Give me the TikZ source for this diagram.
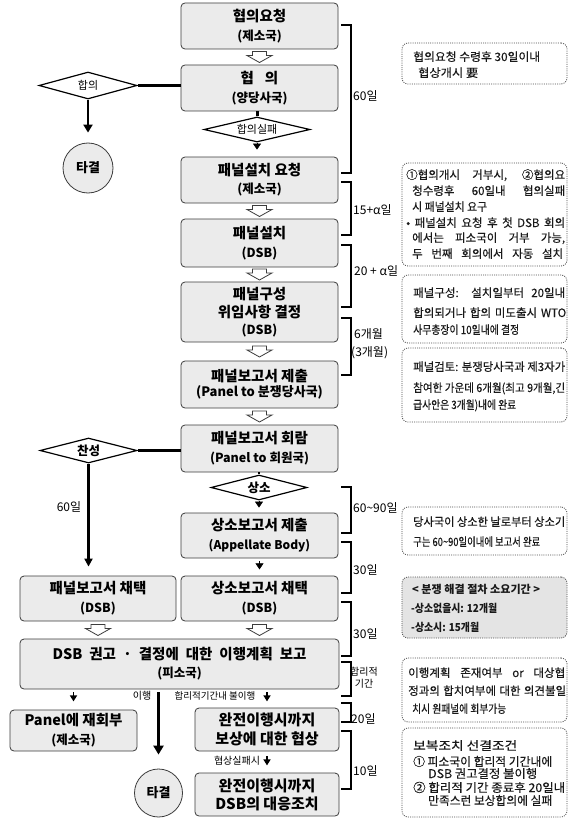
\documentclass[tikz,border=0pt]{standalone}
\usepackage{fontspec}
\usepackage{graphicx}
\setmainfont{Noto Sans CJK KR}
\newfontfamily\nfD[FakeBold=0.25]{Noto Sans CJK KR}
\usetikzlibrary{arrows.meta,shapes.geometric,calc}
\definecolor{boxgray}{HTML}{EBEBEB}
\definecolor{edge}{HTML}{3C3C3C}
\definecolor{notegray}{HTML}{E4E4E4}
\newcommand\kT{\bfseries\fontsize{14.5}{19}\selectfont}
\newcommand\kS{\bfseries\fontsize{12.5}{19}\selectfont}
\newcommand\jl[2]{\setbox0=\hbox{#2}\ifdim\wd0>#1\relax\pgfmathsetmacro\jr{#1/\the\wd0}\scalebox{\jr}[1]{\box0}\else\makebox[#1][s]{#2}\fi}
\newcommand\fw[2]{\setbox0=\hbox{#2}\pgfmathsetmacro\jr{#1/\the\wd0}\scalebox{\jr}[1]{\box0}}
\begin{document}
\begin{tikzpicture}[x=1pt,y=-1pt,
  mb/.style={draw=edge, fill=boxgray, line width=0.8pt, rounded corners=4pt, inner sep=0pt, align=center, font=\kT, minimum width=157pt},
  dm/.style={diamond, aspect=4, draw=black, line width=1.2pt, fill=white, inner sep=0pt},
  cc/.style={circle, draw=edge, line width=0.8pt, fill=boxgray, inner sep=0pt, font=\bfseries\fontsize{13}{15}\selectfont},
  thk/.style={line width=3pt},
  tarr/.style={line width=2.6pt, -{Triangle[length=8pt,width=9pt]}},
  mk/.style={line width=0.5pt, -{Triangle[length=6pt,width=8pt]}},
  mk2/.style={line width=1.6pt, -{Triangle[length=6pt,width=7pt]}},
  br/.style={line width=1.8pt},
  lab/.style={inner sep=0pt, anchor=west, font=\fontsize{12}{14}\selectfont},
  sl/.style={inner sep=0pt, font=\fontsize{10}{12}\selectfont},
  nb/.style={draw=black!70, line width=0.8pt, dash pattern=on 1pt off 1.2pt, rounded corners=6pt, minimum width=165pt, inner sep=0pt},
  nt/.style={inner sep=0pt, anchor=base west, text=black!90, font=\nfD\fontsize{11.5}{13}\selectfont},
  oarrow/.pic={\draw[fill=white, draw=edge, line width=0.8pt, line join=miter] (-7,-5.5) -- (7,-5.5) -- (7,-1.5) -- (12.5,-1.5) -- (0,5.5) -- (-12.5,-1.5) -- (-7,-1.5) -- cycle;}
]
\fill[white] (0,0) rectangle (580,824);
\useasboundingbox (0,0) rectangle (580,824);

% main boxes
\node[mb, minimum height=46pt] (b1) at (259.5,26) {협의요청\\{\kS (제소국)}};
\node[mb, minimum height=46pt] (b2) at (259.5,88) {협\hspace{11pt}의\\{\kS (양당사국)}};
\node[mb, minimum height=46pt] (b3) at (259.5,180) {패널설치 요청\\[-1pt]{\kS (제소국)}};
\node[mb, minimum height=48pt] (b4) at (259.5,243) {패널설치\\{\kS (DSB)}};
\node[mb, minimum height=60pt] (b5) at (259.5,312) {패널구성\\[-1pt]위임사항 결정\\[-2pt]{\kS (DSB)}};
\node[mb, minimum height=47pt] (b6) at (259.5,384.5) {패널보고서 제출\\[-4pt]{\bfseries\fontsize{13}{19}\selectfont (Panel to 분쟁당사국)}};
\node[mb, minimum height=47pt] (b7) at (259.5,448.5) {패널보고서 회람\\{\kS (Panel to 회원국)}};
\node[mb, minimum height=45pt] (b8) at (259.5,535.5) {상소보고서 제출\\{\bfseries\fontsize{12}{19}\selectfont (Appellate Body)}};
\node[mb, minimum height=45pt] (b9) at (259.5,598.5) {상소보고서 채택\\{\kS (DSB)}};
\node[mb, minimum height=45pt, minimum width=156pt] (b10) at (98,598.5) {패널보고서 채택\\{\kS (DSB)}};
\node[mb, minimum height=50pt, minimum width=319pt] (b11) at (179.5,664) {\makebox[254pt][s]{DSB 권고 · 결정에 대한 이행계획 보고}\\[-1pt]{\kS (피소국)}};
\node[mb, minimum height=41pt, minimum width=127pt] (b12) at (73.5,730.5) {Panel에 재회부\\{\kS (제소국)}};
\node[mb, minimum height=43pt, minimum width=144pt, font=\bfseries\fontsize{15}{19}\selectfont] (b13) at (267,729.5) {완전이행시까지\\보상에 대한 협상};
\node[mb, minimum height=43pt, minimum width=144pt, font=\bfseries\fontsize{15}{19}\selectfont] (b14) at (267,794.5) {완전이행시까지\\[-1pt]DSB의 대응조치};

% diamonds and circles
\node[dm, minimum width=98pt, minimum height=27pt, font=\fontsize{11}{13}\selectfont] (d1) at (88,85.5) {합의};
\node[dm, minimum width=106pt, minimum height=25pt, font=\fontsize{11}{13}\selectfont] (d2) at (257,129.5) {합의실패};
\node[dm, minimum width=97pt, minimum height=25pt, font=\bfseries\fontsize{12.5}{14}\selectfont] (d3) at (88.5,450.5) {찬성};
\node[dm, minimum width=96pt, minimum height=25pt, font=\bfseries\fontsize{12.5}{14}\selectfont] (d4) at (259,487.5) {상소};
\node[cc, minimum size=50pt] (t1) at (88,168) {타결};
\node[cc, minimum size=48pt] (t2) at (158.5,793) {타결};

% open arrows
\pic at ($(b1.south)!0.5!(b2.north)$) {oarrow};
\pic at ($(b3.south)!0.5!(b4.north)$) {oarrow};
\pic at ($(b4.south)!0.5!(b5.north)$) {oarrow};
\pic at ($(b5.south)!0.5!(b6.north)$) {oarrow};
\pic at ($(b6.south)!0.5!(b7.north)$) {oarrow};
\pic at ($(b10.south)!0.5!(b10.south |- b11.north)$) {oarrow};
\pic at ($(b9.south)!0.5!(b9.south |- b11.north)$) {oarrow};

% connectors
\draw[thk] (d1.east) -- (d1.east -| b2.west);
\draw[tarr] (d1.south) -- ($(t1.north)+(0,-10)$);
\draw[thk] (b2.south -| d2.north) -- (d2.north);
\draw[mk] (d2.south) -- ++(0,7);
\draw[thk] (d3.east) -- (d3.east -| b7.west);
\draw[line width=2.2pt, -{Triangle[length=8pt,width=8pt]}] (d3.south) -- ($(d3.south |- b10.north)+(0,-9)$);
\draw[line width=1.5pt] (b7.south -| d4.north) -- (d4.north);
\draw[mk] (d4.south) -- ++(0,7);
\draw[mk] ($(b8.south)+(0,3)$) -- ++(0,8);
\draw[mk2] ($(b11.south -| b12.north)+(0,3)$) -- ++(0,9);
\draw[mk2] ($(b11.south -| b13.north)+(0,3)$) -- ++(0,9);
\draw[line width=3.2pt, -{Triangle[length=9pt,width=10pt]}] ($(b11.south -| t2.north)+(0,3)$) -- ($(t2.north)+(0,-14)$);
\draw[mk2] ($(b13.south)+(0,5)$) -- ++(0,9);

% side labels
\node[sl] (lyes) at (142,696) {이행};
\node[sl, font=\fontsize{9.5}{11}\selectfont] (lno) at (215,696) {합리적기간내 불이행};
\node[sl] (lfail) at (237,761) {협상실패시};
\node[inner sep=0pt, font=\fontsize{12}{14}\selectfont] (l60) at (69,507) {60일};

% brackets
\draw[br] (341,25) -- (351,25) -- (351,173) -- (341,173);
\draw[br] (341,182) -- (351,182) -- (351,235) -- (341,235);
\draw[br] (341,245) -- (351,245) -- (351,307) -- (341,307);
\draw[br] (341,318) -- (351,318) -- (351,375) -- (341,375);
\draw[br] (341,487) -- (351,487) -- (351,533) -- (341,533);
\draw[br] (341,542) -- (351,542) -- (351,593) -- (341,593);
\draw[br] (341,602) -- (351,602) -- (351,656) -- (341,656);
\draw[br] (341,662) -- (351,662) -- (351,696) -- (341,696);
\draw[br] (341,703) -- (351,703) -- (351,722) -- (341,722);
\draw[br] (341,731) -- (351,731) -- (351,789) -- (341,789);
\node[lab] (k1) at (353,96) {60일};
\node[lab] (k2) at (353,210) {15+α일};
\node[lab] (k3) at (354,271) {20 + α일};
\node[lab] (k4) at (354,334) {6개월};
\node[lab] (k5) at (351,353) {(3개월)};
\node[lab] (k6) at (353,508) {60\textasciitilde 90일};
\node[lab] (k7) at (353,570) {30일};
\node[lab] (k8) at (353,634) {30일};
\node[inner sep=0pt, font=\fontsize{10}{12}\selectfont] (k9) at (364,672) {합리적};
\node[inner sep=0pt, font=\fontsize{10}{12}\selectfont] (k10) at (364,684) {기간};
\node[lab] (k11) at (351,719) {20일};
\node[lab] (k12) at (353,771) {10일};

% notes
\node[nb, minimum height=41pt] (n1) at (484.5,63.5) {};
\node[nb, minimum height=103pt] (n2) at (484.5,214.5) {};
\node[nb, minimum height=68pt] (n3) at (484.5,309) {};
\node[nb, minimum height=74pt] (n4) at (484.5,385) {};
\node[nb, minimum height=48pt] (n5) at (484.5,531) {};
\node[nb, minimum height=61pt, fill=notegray] (n6) at (484.5,607.5) {};
\node[nb, minimum height=64pt] (n7) at (484.5,690) {};
\node[nb, minimum height=89pt] (n8) at (484.5,772.5) {};

\node[nt] (n1a) at (413,61) {\fw{127pt}{협의요청 수령후 30일이내}};
\node[nt] (n1b) at (418,77) {\fw{60pt}{협상개시 要}};

\node[nt] (n2a) at (406,179) {\jl{159pt}{①협의개시 거부시, ②협의요}};
\node[nt] (n2b) at (412,195) {\jl{153pt}{청수령후 60일내 협의실패}};
\node[nt] (n2c) at (412,211) {\fw{75pt}{시 패널설치 요구}};
\node[nt] (n2d) at (406,227) {\jl{159pt}{• 패널설치 요청 후 첫 DSB 회의}};
\node[nt] (n2e) at (412,242) {\jl{153pt}{에서는 피소국이 거부 가능,}};
\node[nt] (n2f) at (412,258) {\jl{151pt}{두 번째 회의에서 자동 설치}};

\node[nt] (n3a) at (413,297) {\jl{152pt}{패널구성: 설치일부터 20일내}};
\node[nt] (n3b) at (413,317) {\jl{153pt}{합의되거나 합의 미도출시 WTO}};
\node[nt] (n3c) at (413,334) {\fw{106pt}{사무총장이 10일내에 결정}};

\node[nt] (n4a) at (413,371) {\jl{152pt}{패널검토: 분쟁당사국과 제3자가}};
\node[nt] (n4b) at (413,392) {\jl{152pt}{참여한 가운데 6개월(최고 9개월,긴}};
\node[nt] (n4c) at (413,409) {\fw{103pt}{급사안은 3개월)내에 완료}};

\node[nt] (n5a) at (413,526) {\jl{152pt}{당사국이 상소한 날로부터 상소기}};
\node[nt] (n5b) at (413,546) {\fw{127pt}{구는 60\textasciitilde 90일이내에 보고서 완료}};

\node[nt, font=\bfseries\fontsize{11}{13}\selectfont] (n6a) at (412,593) {\fw{128pt}{< 분쟁 해결 절차 소요기간 >}};
\node[nt, font=\bfseries\fontsize{11}{13}\selectfont] (n6b) at (411,612) {\fw{86pt}{-상소없을시: 12개월}};
\node[nt, font=\bfseries\fontsize{11}{13}\selectfont] (n6c) at (411,631) {\fw{68pt}{-상소시: 15개월}};

\node[nt] (n7a) at (408,677) {\jl{157pt}{이행계획 존재여부 or 대상협}};
\node[nt] (n7b) at (408,695) {\jl{158pt}{정과의 합치여부에 대한 의견불일}};
\node[nt] (n7c) at (412,713) {\fw{94pt}{치시 원패널에 회부가능}};

\node[nt, font=\nfD\fontsize{12}{13}\selectfont] (n8a) at (413,750) {\fw{104pt}{보복조치 선결조건}};
\node[nt, font=\nfD\fontsize{12}{13}\selectfont] (n8b) at (413,766) {\fw{139pt}{① 피소국이 합리적 기간내에}};
\node[nt, font=\nfD\fontsize{12}{13}\selectfont] (n8c) at (428,778) {\fw{109pt}{DSB 권고결정 불이행}};
\node[nt, font=\nfD\fontsize{12}{13}\selectfont] (n8d) at (413,792) {\fw{152pt}{② 합리적 기간 종료후 20일내}};
\node[nt, font=\nfD\fontsize{12}{13}\selectfont] (n8e) at (428,805) {\fw{124pt}{만족스런 보상합의에 실패}};
\end{tikzpicture}
\end{document}
